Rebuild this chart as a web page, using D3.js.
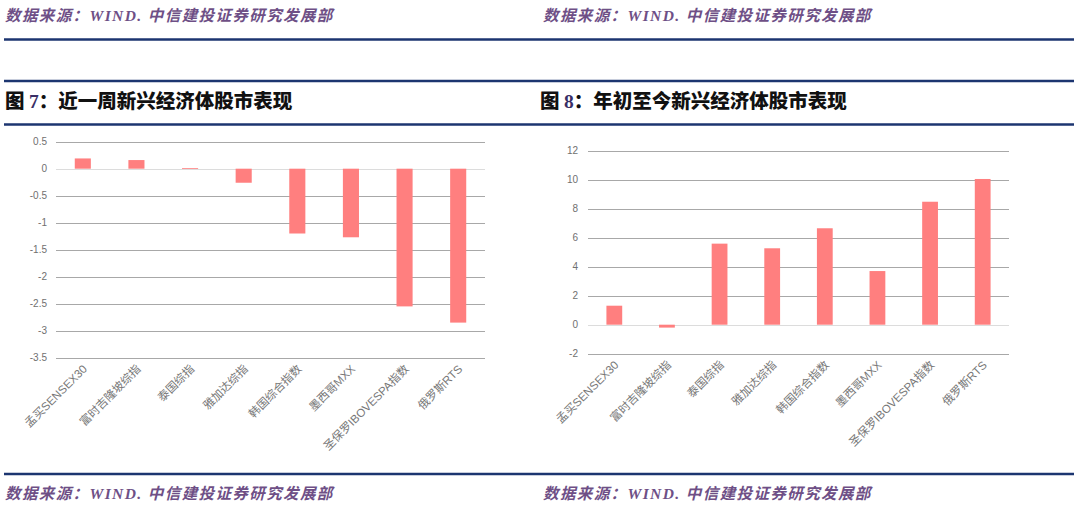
<!DOCTYPE html>
<html><head><meta charset="utf-8">
<script src="https://cdn.jsdelivr.net/npm/d3@7/dist/d3.min.js"></script>
<style>body{margin:0;background:#fff}svg{display:block}</style>
</head><body>
<svg id="c" width="1080" height="507"></svg>
<script>
const categories = ["孟买SENSEX30","富时吉隆坡综指","泰国综指","雅加达综指","韩国综合指数","墨西哥MXX","圣保罗IBOVESPA指数","俄罗斯RTS"];
const weekValues = [0.19, 0.16, 0.01, -0.26, -1.20, -1.27, -2.55, -2.85];
const ytdValues = [1.31, -0.20, 5.59, 5.27, 6.65, 3.70, 8.48, 10.05];
const weekTicks = [0.5, 0, -0.5, -1, -1.5, -2, -2.5, -3, -3.5];
const ytdTicks = [12, 10, 8, 6, 4, 2, 0, -2];
const sourceText = "数据来源：WIND. 中信建投证券研究发展部";
const titles = [["图 ","7","：近一周新兴经济体股市表现"],["图 ","8","：年初至今新兴经济体股市表现"]];

const svg = d3.select("#c");
const navy = "#1c3570";

// horizontal rules
[39.5, 81, 124.5, 474].forEach(y => {
  svg.append("line").attr("x1",4).attr("x2",1074).attr("y1",y).attr("y2",y)
    .attr("stroke",navy).attr("stroke-width",2.6);
});

// source texts
[[5,21],[543,21],[5,499],[543,499]].forEach(([x,y]) => {
  svg.append("text").attr("x",x).attr("y",y).text(sourceText)
    .attr("font-family","'Liberation Serif','Noto Sans CJK SC',serif")
    .attr("font-style","italic").attr("font-weight","bold")
    .attr("font-size",15.5).attr("letter-spacing",1.4).attr("fill","#6e4f86");
});

// titles
[[5,108],[540,108]].forEach(([x,y],i) => {
  const t = svg.append("text").attr("x",x).attr("y",y)
    .attr("font-family","'Noto Sans CJK SC',sans-serif").attr("font-weight",900)
    .attr("font-size",19.5).attr("fill","#111");
  t.append("tspan").text(titles[i][0]);
  t.append("tspan").text(titles[i][1]).attr("font-family","'Liberation Serif',serif").attr("fill","#3a2f66");
  t.append("tspan").text(titles[i][2]);
});

function chart(values, ticks, domain, xr, yr, labelRight) {
  const g = svg.append("g");
  const x = d3.scaleBand().domain(categories).range(xr).paddingInner(0.7).paddingOuter(0.35);
  const y = d3.scaleLinear().domain(domain).range(yr);
  // grid
  g.selectAll(".grid").data(ticks).join("line")
    .attr("x1",xr[0]).attr("x2",xr[1])
    .attr("y1",d=>Math.round(y(d))+0.5).attr("y2",d=>Math.round(y(d))+0.5)
    .attr("stroke",d=> d===0 ? "#dcdcdc" : "#a8a8a8").attr("stroke-width",1);
  // y labels
  g.selectAll(".yl").data(ticks).join("text")
    .attr("x",labelRight).attr("y",d=>y(d)+3.5).attr("text-anchor","end")
    .attr("font-family","'Liberation Sans',Arial,sans-serif").attr("font-size",10)
    .attr("fill","#707070").text(d=>d);
  // bars
  g.selectAll(".bar").data(values).join("rect")
    .attr("x",(d,i)=>x(categories[i])).attr("width",x.bandwidth())
    .attr("y",d=>y(Math.max(0,d))).attr("height",d=>Math.max(0.8,Math.abs(y(d)-y(0))))
    .attr("fill","#ff7f7f");
  // category labels
  const by = yr[0] + 12;
  g.selectAll(".xl").data(categories).join("text")
    .attr("transform",d=>`translate(${x(d)+x.bandwidth()/2+5},${by}) rotate(-45)`)
    .attr("text-anchor","end")
    .attr("font-family","'Liberation Sans','Noto Sans CJK SC',sans-serif").attr("font-size",11.5)
    .attr("fill","#777").text(d=>d);
}

chart(weekValues, weekTicks, [-3.5,0.5], [56,485], [357.7,141.7], 47);
chart(ytdValues, ytdTicks, [-2,12], [588,1009], [353.7,150.7], 578);
</script>
</body></html>
